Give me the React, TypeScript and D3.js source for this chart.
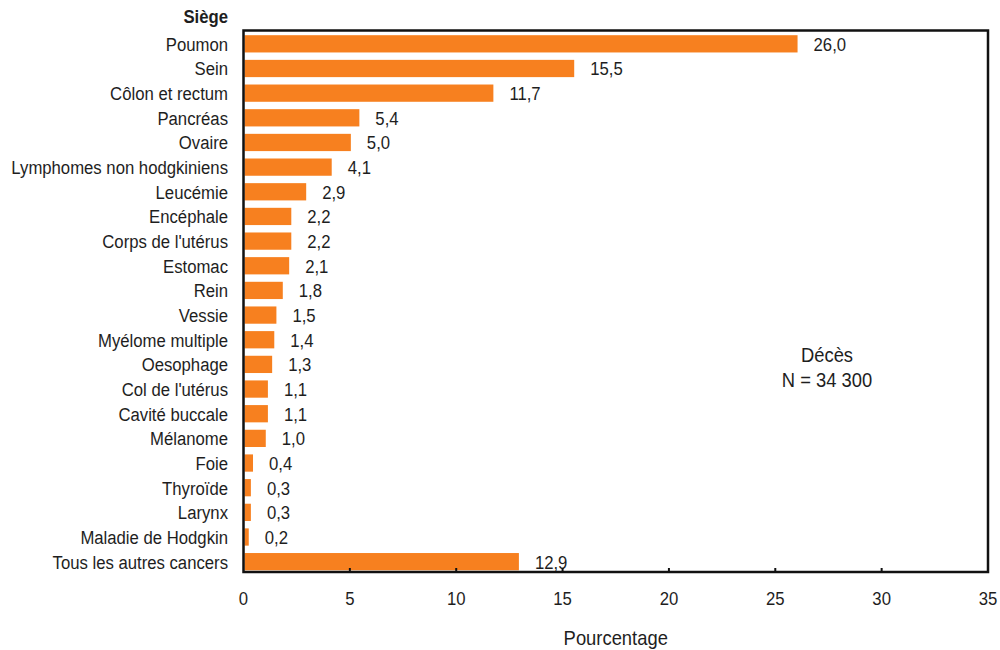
import React from "react";
import * as d3 from "d3";

const categories = [
  "Poumon", "Sein", "Côlon et rectum", "Pancréas", "Ovaire",
  "Lymphomes non hodgkiniens", "Leucémie", "Encéphale", "Corps de l'utérus",
  "Estomac", "Rein", "Vessie", "Myélome multiple", "Oesophage",
  "Col de l'utérus", "Cavité buccale", "Mélanome", "Foie", "Thyroïde",
  "Larynx", "Maladie de Hodgkin", "Tous les autres cancers",
];
const values = [
  26.0, 15.5, 11.7, 5.4, 5.0, 4.1, 2.9, 2.2, 2.2, 2.1, 1.8, 1.5, 1.4, 1.3,
  1.1, 1.1, 1.0, 0.4, 0.3, 0.3, 0.2, 12.9,
];
const xTicks = [0, 5, 10, 15, 20, 25, 30, 35];

const W = 1000;
const H = 650;
const left = 243.5;
const right = 988;
const top = 30.5;
const bottom = 572;

const FONT = "'Liberation Sans', Arial, sans-serif";
const TXT = "#1e1e1e";
const ORANGE = "#f7801f";

function T({
  x, y, children, anchor = "start", size = 19, sx = 0.88, weight = "normal",
}: {
  x: number; y: number; children: React.ReactNode; anchor?: string;
  size?: number; sx?: number; weight?: string;
}) {
  return (
    <text
      transform={`translate(${x},${y}) scale(${sx},1)`}
      dy="0.36em"
      textAnchor={anchor}
      fontSize={size}
      fontWeight={weight}
      fill={TXT}
    >
      {children}
    </text>
  );
}

export default function App() {
  const x = d3.scaleLinear().domain([0, 35]).range([left, right]);
  const y = d3
    .scaleBand<string>()
    .domain(categories)
    .range([top + 1, bottom + 2])
    .paddingInner(0.3)
    .paddingOuter(0.15);
  const fmt = (v: number) => v.toFixed(1).replace(".", ",");

  return (
    <svg
      width={W}
      height={H}
      style={{ position: "absolute", left: 0, top: 0, background: "#fff" }}
      fontFamily={FONT}
    >
      <rect width={W} height={H} fill="#fff" />
      {categories.map((c, i) => {
        const cy = y(c)! + y.bandwidth() / 2;
        return (
          <g key={c}>
            <rect
              x={x(0) + 1}
              y={y(c)!}
              width={x(values[i]) - x(0)}
              height={Math.min(y.bandwidth(), bottom - 1 - y(c)!)}
              fill={ORANGE}
            />
            <T x={228} y={cy} anchor="end">{c}</T>
            <T x={x(values[i]) + 17} y={cy}>{fmt(values[i])}</T>
          </g>
        );
      })}
      <T x={228} y={16} anchor="end" weight="bold">Siège</T>
      <rect
        x={left}
        y={top}
        width={right - left}
        height={bottom - top}
        fill="none"
        stroke="#111"
        strokeWidth={2.5}
      />
      {xTicks.map((t) => (
        <g key={t}>
          {t > 0 && t < 35 && (
            <line x1={x(t)} x2={x(t)} y1={bottom} y2={bottom - 4} stroke="#111" strokeWidth={2} />
          )}
          <T x={x(t)} y={598} anchor="middle">{t}</T>
        </g>
      ))}
      <T x={(left + right) / 2} y={638} anchor="middle" size={20} sx={0.92}>Pourcentage</T>
      <T x={827} y={355} anchor="middle" size={20} sx={0.92}>Décès</T>
      <T x={827} y={380} anchor="middle" size={20} sx={0.92}>N = 34 300</T>
    </svg>
  );
}
